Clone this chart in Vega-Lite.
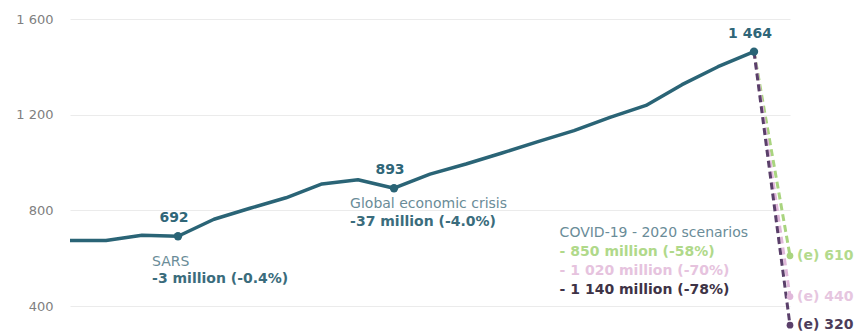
{
  "$schema": "https://vega.github.io/schema/vega-lite/v6.json",
  "width": 720,
  "height": 330,
  "autosize": "none",
  "padding": {"left": 70, "top": 0, "right": 77, "bottom": 5},
  "background": "white",
  "config": {"view": {"stroke": null}, "font": "DejaVu Sans"},
  "datasets": {
    "arrivals": [
      {"year": 2000, "value": 674},
      {"year": 2001, "value": 674},
      {"year": 2002, "value": 696},
      {"year": 2003, "value": 692},
      {"year": 2004, "value": 763},
      {"year": 2005, "value": 809},
      {"year": 2006, "value": 853},
      {"year": 2007, "value": 911},
      {"year": 2008, "value": 928},
      {"year": 2009, "value": 893},
      {"year": 2010, "value": 952},
      {"year": 2011, "value": 994},
      {"year": 2012, "value": 1040},
      {"year": 2013, "value": 1088},
      {"year": 2014, "value": 1134},
      {"year": 2015, "value": 1189},
      {"year": 2016, "value": 1239},
      {"year": 2017, "value": 1326},
      {"year": 2018, "value": 1401},
      {"year": 2019, "value": 1464}
    ],
    "scen": [
      {"scenario": "a", "year": 2019, "value": 1464},
      {"scenario": "a", "year": 2020, "value": 610, "label": "(e) 610"},
      {"scenario": "b", "year": 2019, "value": 1464},
      {"scenario": "b", "year": 2020, "value": 440, "label": "(e) 440"},
      {"scenario": "c", "year": 2019, "value": 1464},
      {"scenario": "c", "year": 2020, "value": 320, "label": "(e) 320"}
    ],
    "peaks": [
      {"year": 2003, "value": 692, "label": "692"},
      {"year": 2009, "value": 893, "label": "893"},
      {"year": 2019, "value": 1464, "label": "1 464"}
    ],
    "notesLight": [
      {"year": 2002.28, "value": 584, "text": "SARS"},
      {"year": 2007.78, "value": 827, "text": "Global economic crisis"},
      {"year": 2013.6, "value": 705, "text": "COVID-19 - 2020 scenarios"}
    ],
    "notesBold": [
      {"year": 2002.28, "value": 513, "text": "-3 million (-0.4%)"},
      {"year": 2007.78, "value": 751, "text": "-37 million (-4.0%)"}
    ],
    "covid": [
      {"year": 2013.6, "value": 626, "kind": "a", "text": "- 850 million (-58%)"},
      {"year": 2013.6, "value": 546, "kind": "b", "text": "- 1 020 million (-70%)"},
      {"year": 2013.6, "value": 467, "kind": "c", "text": "- 1 140 million (-78%)"}
    ]
  },
  "encoding": {
    "x": {"field": "year", "type": "quantitative", "scale": {"domain": [2000, 2020], "nice": false, "zero": false}, "axis": null},
    "y": {"field": "value", "type": "quantitative", "scale": {"domain": [300, 1680], "nice": false, "zero": false},
      "axis": {"values": [400, 800, 1200, 1600], "grid": true, "gridColor": "#ebebeb", "gridWidth": 1, "domain": false, "ticks": false, "labelColor": "#808080", "labelFontSize": 13, "labelPadding": 17, "labelExpr": "replace(format(datum.value, ','), ',', ' ')", "title": null}}
  },
  "layer": [
    {
      "data": {"name": "scen"},
      "mark": {"type": "line", "strokeDash": [7, 4], "strokeWidth": 3},
      "encoding": {
        "color": {"field": "scenario", "type": "nominal", "scale": {"domain": ["a", "b", "c"], "range": ["#a9d47f", "#e0b8da", "#5a3f6a"]}, "legend": null},
        "order": {"field": "year"}
      }
    },
    {
      "data": {"name": "scen"},
      "transform": [{"filter": "datum.year == 2020"}],
      "mark": {"type": "circle", "size": 45, "opacity": 1},
      "encoding": {
        "color": {"field": "scenario", "type": "nominal", "scale": {"domain": ["a", "b", "c"], "range": ["#a9d47f", "#e0b8da", "#5a3f6a"]}, "legend": null}
      }
    },
    {
      "data": {"name": "scen"},
      "transform": [{"filter": "datum.year == 2020"}],
      "mark": {"type": "text", "align": "left", "baseline": "middle", "dx": 7, "fontSize": 14, "fontWeight": "bold"},
      "encoding": {
        "text": {"field": "label"},
        "color": {"field": "scenario", "type": "nominal", "scale": {"domain": ["a", "b", "c"], "range": ["#b3da8c", "#e6c6e0", "#4d3d5a"]}, "legend": null}
      }
    },
    {
      "data": {"name": "arrivals"},
      "mark": {"type": "line", "color": "#2a6476", "strokeWidth": 3.5, "strokeJoin": "round"}
    },
    {
      "data": {"name": "peaks"},
      "mark": {"type": "circle", "size": 70, "color": "#2a6476", "opacity": 1}
    },
    {
      "data": {"name": "peaks"},
      "mark": {"type": "text", "align": "center", "baseline": "middle", "dy": -18, "dx": -4, "fontSize": 14, "fontWeight": "bold", "color": "#2f6678"},
      "encoding": {"text": {"field": "label"}}
    },
    {
      "data": {"name": "notesLight"},
      "mark": {"type": "text", "align": "left", "baseline": "middle", "fontSize": 14, "color": "#6a8c98"},
      "encoding": {"text": {"field": "text"}}
    },
    {
      "data": {"name": "notesBold"},
      "mark": {"type": "text", "align": "left", "baseline": "middle", "fontSize": 14, "fontWeight": "bold", "color": "#3a6c7c"},
      "encoding": {"text": {"field": "text"}}
    },
    {
      "data": {"name": "covid"},
      "mark": {"type": "text", "align": "left", "baseline": "middle", "fontSize": 14, "fontWeight": "bold"},
      "encoding": {
        "text": {"field": "text"},
        "color": {"field": "kind", "type": "nominal", "scale": {"domain": ["a", "b", "c"], "range": ["#b0d98a", "#e6c3de", "#3e3346"]}, "legend": null}
      }
    }
  ],
  "resolve": {"scale": {"color": "independent"}}
}
